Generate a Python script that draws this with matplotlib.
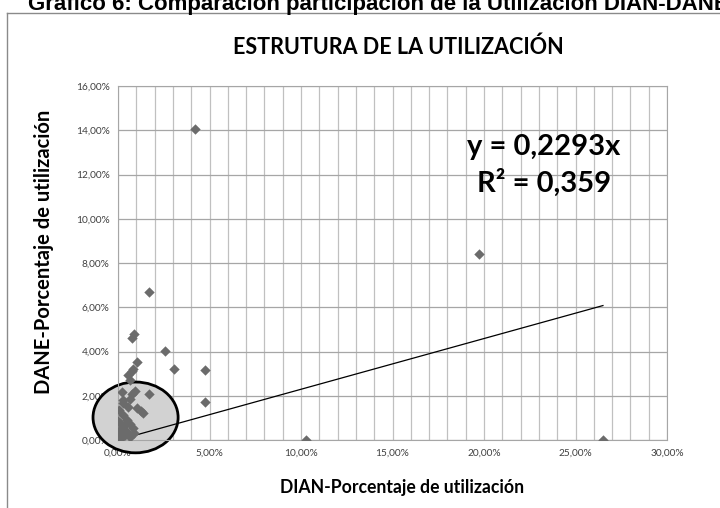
import numpy as np
import matplotlib.pyplot as plt
from matplotlib.patches import Ellipse
from matplotlib.ticker import FuncFormatter, MultipleLocator

# DIAN vs DANE participation (%)
dian = [4.2, 19.7, 10.3, 26.5, 1.69, 0.75, 0.87, 2.57, 3.08, 1.02, 0.84, 0.78,
        0.56, 0.66, 1.69, 0.2, 0.93, 0.78, 0.66, 0.26, 0.29, 0.56, 1.02, 1.24,
        1.38, 0.07, 0.29, 0.47, 0.11, 0.33, 0.66, 0.84, 0.11, 0.47, 0.02, 0.2,
        0.07, 0.38, 0.02, 0.05, 0.66, 0.9, 4.75, 4.75]
dane = [14.05, 8.4, 0.0, 0.0, 6.7, 4.6, 4.8, 4.03, 3.2, 3.54, 3.2, 3.1,
        2.94, 2.7, 2.1, 2.18, 2.23, 2.06, 1.85, 1.8, 1.66, 1.5, 1.46, 1.31,
        1.2, 1.36, 1.13, 0.9, 0.75, 0.63, 0.72, 0.53, 0.45, 0.38, 0.23, 0.15,
        0.0, 0.23, 0.87, 0.4, 0.15, 0.3, 3.16, 1.72]
slope = 0.2293
r2 = 0.359

plt.rcParams['font.family'] = ['Lato', 'DejaVu Sans']

fig = plt.figure(figsize=(7.2, 5.08), dpi=100)
ax = fig.add_axes([118/720, 1-440/508, 549/720, 354/508])

# chart frame (left and top edges visible)
fig.add_artist(plt.Line2D([7/720, 7/720], [0, 1-13/508], color='#8a8a8a', lw=1))
fig.add_artist(plt.Line2D([7/720, 1], [1-13/508, 1-13/508], color='#8a8a8a', lw=1))
fig.text(28/720, 1-10/508, 'Grafico 6: Comparación participación de la Utilización DIAN-DANE',
         family='Liberation Sans', weight='bold', fontsize=16, va='baseline')

x = np.array(dian)
y = np.array(dane)
ax.scatter(x, y, marker='D', s=28, color='#6b6b6b', zorder=3, linewidths=0)
xt = np.array([0, x.max()])
ax.plot(xt, slope*xt, color='black', lw=0.9, zorder=2.6)

ax.add_patch(Ellipse((0.96, 1.02), 4.65, 3.2, facecolor='#d2d2d2', edgecolor='black',
                     lw=2, zorder=2, clip_on=False))

ax.set_xlim(0, 30)
ax.set_ylim(0, 16)
ax.xaxis.set_major_locator(MultipleLocator(5))
ax.xaxis.set_minor_locator(MultipleLocator(1))
ax.yaxis.set_major_locator(MultipleLocator(2))
pct = FuncFormatter(lambda v, p: f'{v:.2f}%'.replace('.', ','))
ax.xaxis.set_major_formatter(pct)
ax.yaxis.set_major_formatter(pct)
ax.grid(True, which='both', axis='x', color='#c0c0c0', lw=0.9)
ax.grid(True, which='major', axis='y', color='#a6a6a6', lw=0.9)
ax.tick_params(which='both', length=0, labelsize=7.3, colors='#404040', pad=6)
for s in ax.spines.values():
    s.set_color('#a6a6a6')

fig.text(402/720, 1-487/508, 'DIAN-Porcentaje de utilización', fontsize=12.7,
         weight='bold', ha='center', va='center')
fig.text(44/720, 1-252/508, 'DANE-Porcentaje de utilización', fontsize=14.5,
         weight='bold', ha='center', va='center', rotation=90)
fig.text(398/720, 1-47/508, 'ESTRUTURA DE LA UTILIZACIÓN', fontsize=15.5, weight='bold',
         ha='center', va='center')

ax.text(0.776, 0.828, f'y = {slope}x'.replace('.', ','), transform=ax.transAxes,
        fontsize=21, weight='bold', ha='center', va='center')
ax.text(0.776, 0.726, f'R² = {r2}'.replace('.', ','), transform=ax.transAxes,
        fontsize=21, weight='bold', ha='center', va='center')

fig.savefig('out.png', dpi=100)
